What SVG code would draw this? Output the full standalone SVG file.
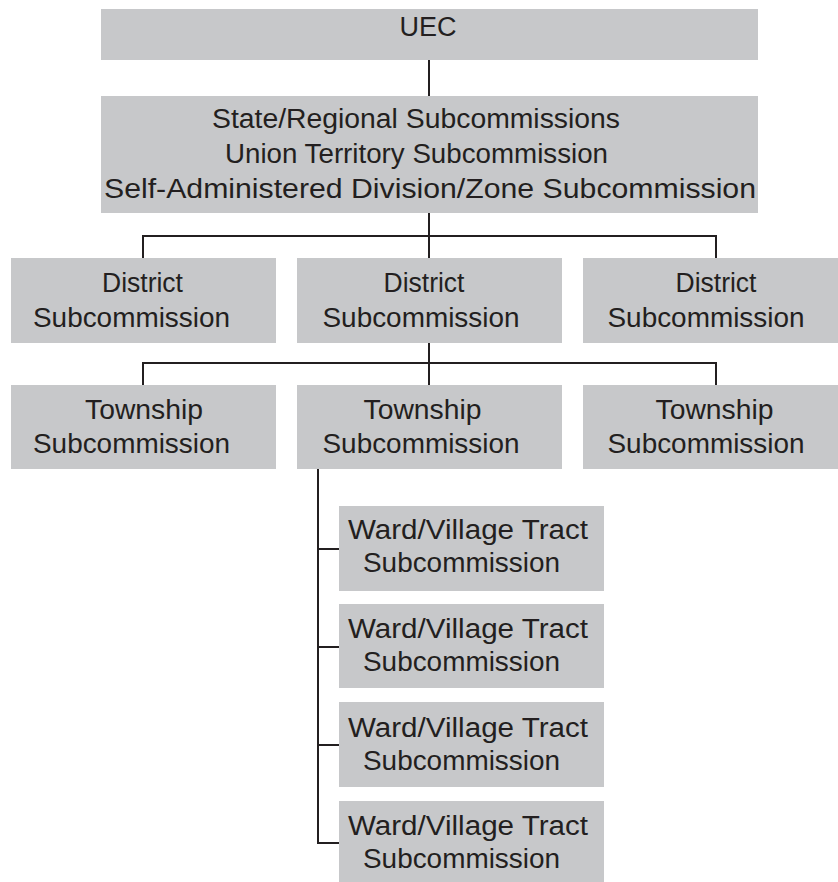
<svg xmlns="http://www.w3.org/2000/svg" width="838" height="882" viewBox="0 0 838 882">
<style>
.box{fill:#c7c8ca}
.t{font-family:"Liberation Sans",Arial,sans-serif;font-size:27px;fill:#231f20;text-anchor:middle}
.c{fill:none;stroke:#231f20;stroke-width:2}
</style>
<rect width="838" height="882" fill="#ffffff"/>
<g id="connectors">
<path class="c" d="M429,60V96"/>
<path class="c" d="M429,213V236M143,258V236H716V258M429,236V258"/>
<path class="c" d="M429,343V363M143,385V363H716V385M429,363V385"/>
<path class="c" d="M318,469V843H339M318,549H339M318,647H339M318,745H339"/>
</g>
<g id="uec">
<rect class="box" x="101" y="9" width="657" height="51"/>
<text class="t" x="428" y="36">UEC</text>
</g>
<g id="state">
<rect class="box" x="101" y="96" width="657" height="117"/>
<text class="t" x="416" y="128" textLength="408" lengthAdjust="spacingAndGlyphs">State/Regional Subcommissions</text>
<text class="t" x="416.5" y="163" textLength="383" lengthAdjust="spacingAndGlyphs">Union Territory Subcommission</text>
<text class="t" x="430" y="198" textLength="652" lengthAdjust="spacingAndGlyphs">Self-Administered Division/Zone Subcommission</text>
</g>
<g id="district1">
<rect class="box" x="11" y="258" width="265" height="85"/>
<text class="t" x="142.5" y="292" textLength="81" lengthAdjust="spacingAndGlyphs">District</text>
<text class="t" x="131.5" y="327" textLength="197" lengthAdjust="spacingAndGlyphs">Subcommission</text>
</g>
<g id="district2">
<rect class="box" x="297" y="258" width="265" height="85"/>
<text class="t" x="424" y="292" textLength="81" lengthAdjust="spacingAndGlyphs">District</text>
<text class="t" x="421" y="327" textLength="197" lengthAdjust="spacingAndGlyphs">Subcommission</text>
</g>
<g id="district3">
<rect class="box" x="583" y="258" width="265" height="85"/>
<text class="t" x="716" y="292" textLength="81" lengthAdjust="spacingAndGlyphs">District</text>
<text class="t" x="706" y="327" textLength="197" lengthAdjust="spacingAndGlyphs">Subcommission</text>
</g>
<g id="township1">
<rect class="box" x="11" y="385" width="265" height="84"/>
<text class="t" x="144" y="419" textLength="118" lengthAdjust="spacingAndGlyphs">Township</text>
<text class="t" x="131.5" y="453" textLength="197" lengthAdjust="spacingAndGlyphs">Subcommission</text>
</g>
<g id="township2">
<rect class="box" x="297" y="385" width="265" height="84"/>
<text class="t" x="422.5" y="419" textLength="118" lengthAdjust="spacingAndGlyphs">Township</text>
<text class="t" x="421" y="453" textLength="197" lengthAdjust="spacingAndGlyphs">Subcommission</text>
</g>
<g id="township3">
<rect class="box" x="583" y="385" width="265" height="84"/>
<text class="t" x="714.5" y="419" textLength="118" lengthAdjust="spacingAndGlyphs">Township</text>
<text class="t" x="706" y="453" textLength="197" lengthAdjust="spacingAndGlyphs">Subcommission</text>
</g>
<g id="ward1">
<rect class="box" x="339" y="506" width="265" height="85"/>
<text class="t" x="468" y="539" textLength="240" lengthAdjust="spacingAndGlyphs">Ward/Village Tract</text>
<text class="t" x="461.5" y="572" textLength="197" lengthAdjust="spacingAndGlyphs">Subcommission</text>
</g>
<g id="ward2">
<rect class="box" x="339" y="604" width="265" height="84"/>
<text class="t" x="468" y="638" textLength="240" lengthAdjust="spacingAndGlyphs">Ward/Village Tract</text>
<text class="t" x="461.5" y="671" textLength="197" lengthAdjust="spacingAndGlyphs">Subcommission</text>
</g>
<g id="ward3">
<rect class="box" x="339" y="702" width="265" height="85"/>
<text class="t" x="468" y="737" textLength="240" lengthAdjust="spacingAndGlyphs">Ward/Village Tract</text>
<text class="t" x="461.5" y="770" textLength="197" lengthAdjust="spacingAndGlyphs">Subcommission</text>
</g>
<g id="ward4">
<rect class="box" x="339" y="801" width="265" height="85"/>
<text class="t" x="468" y="835" textLength="240" lengthAdjust="spacingAndGlyphs">Ward/Village Tract</text>
<text class="t" x="461.5" y="868" textLength="197" lengthAdjust="spacingAndGlyphs">Subcommission</text>
</g>
</svg>
